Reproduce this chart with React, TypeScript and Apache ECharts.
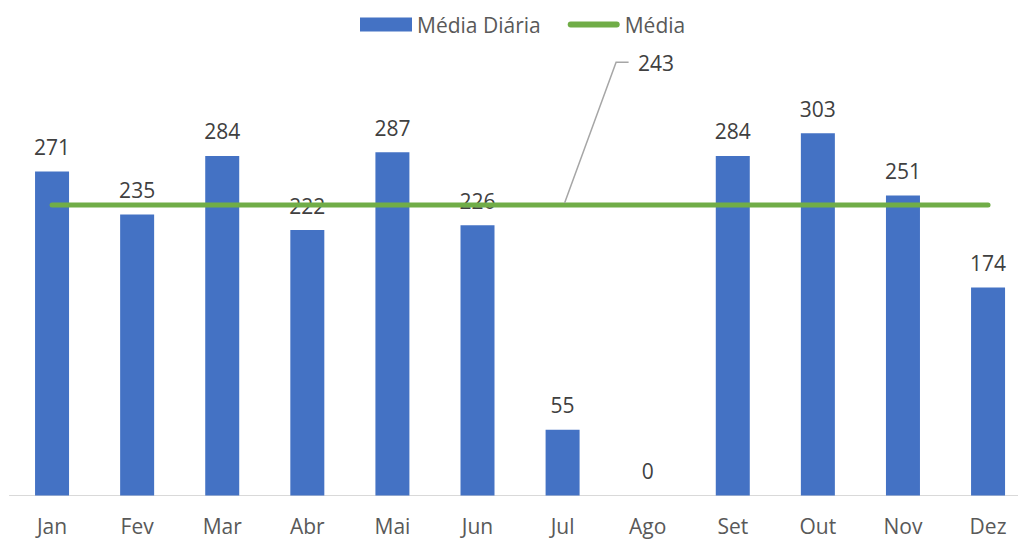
import React, { useEffect, useRef } from "react";
import * as echarts from "echarts";

const categories = ["Jan", "Fev", "Mar", "Abr", "Mai", "Jun", "Jul", "Ago", "Set", "Out", "Nov", "Dez"];
const dailyAverage = [271, 235, 284, 222, 287, 226, 55, 0, 284, 303, 251, 174];
const overallAverage = 243;
const averageLabelCategory = "Jul";

const FONT = "'Open Sans', 'Noto Sans', sans-serif";

export default function App() {
  const ref = useRef<HTMLDivElement>(null);

  useEffect(() => {
    if (!ref.current) return;
    const chart = echarts.init(ref.current, undefined, { renderer: "svg" });
    const avgLine = categories.map(() => overallAverage);
    chart.setOption({
      animation: false,
      textStyle: { fontFamily: FONT },
      legend: {
        left: 360,
        top: 14,
        padding: 0,
        itemWidth: 52,
        itemHeight: 14,
        itemGap: 27,
        textStyle: { fontFamily: FONT, fontSize: 21, color: "#595959" },
        data: [
          { name: "Média Diária", icon: "rect" },
          { name: "Média", icon: "path://M3,0 L49,0 A3,3 0 0 1 49,6 L3,6 A3,3 0 0 1 3,0 Z" },
        ],
      },
      grid: {
        left: 9.5,
        top: 77,
        width: 1021.1,
        bottom: 44.5,
        containLabel: false,
        outerBoundsMode: "none",
      },
      xAxis: {
        type: "category",
        data: categories,
        boundaryGap: true,
        axisLine: { show: true, lineStyle: { color: "#d9d9d9", width: 1 } },
        axisTick: { show: false },
        axisLabel: { fontFamily: FONT, fontSize: 21, color: "#595959", margin: 20 },
      },
      yAxis: {
        type: "value",
        min: 0,
        max: 350,
        show: false,
        splitLine: { show: false },
      },
      series: [
        {
          name: "Média Diária",
          type: "bar",
          data: dailyAverage,
          barWidth: 34,
          itemStyle: { color: "#4472C4" },
          label: {
            show: true,
            position: "top",
            distance: 14,
            fontFamily: FONT,
            fontSize: 21,
            color: "#404040",
          },
        },
        {
          name: "Média",
          type: "line",
          data: avgLine,
          symbol: "none",
          lineStyle: { color: "#70AD47", width: 5, cap: "round" },
          itemStyle: { color: "#70AD47" },
        },
      ],
    });

    const p = chart.convertToPixel({ xAxisIndex: 0, yAxisIndex: 0 }, [averageLabelCategory, overallAverage]) as number[];
    if (p) {
      const [px, py] = p;
      chart.setOption({
        graphic: [
          {
            type: "polyline",
            shape: {
              points: [
                [px + 2, py - 2],
                [px + 53.5, py - 142.6],
                [px + 66, py - 142.6],
              ],
            },
            style: { stroke: "#a6a6a6", lineWidth: 1.5, fill: "none" },
            z: 10,
          },
          {
            type: "text",
            x: px + 75.5,
            y: py - 142,
            style: {
              text: String(overallAverage),
              fontFamily: FONT,
              fontSize: 21,
              fill: "#404040",
              verticalAlign: "middle",
              align: "left",
            },
            z: 10,
          },
        ],
      });
    }

    return () => chart.dispose();
  }, []);

  return (
    <div
      ref={ref}
      style={{ position: "absolute", left: 0, top: 0, width: 1018, height: 540, overflow: "hidden" }}
    />
  );
}
